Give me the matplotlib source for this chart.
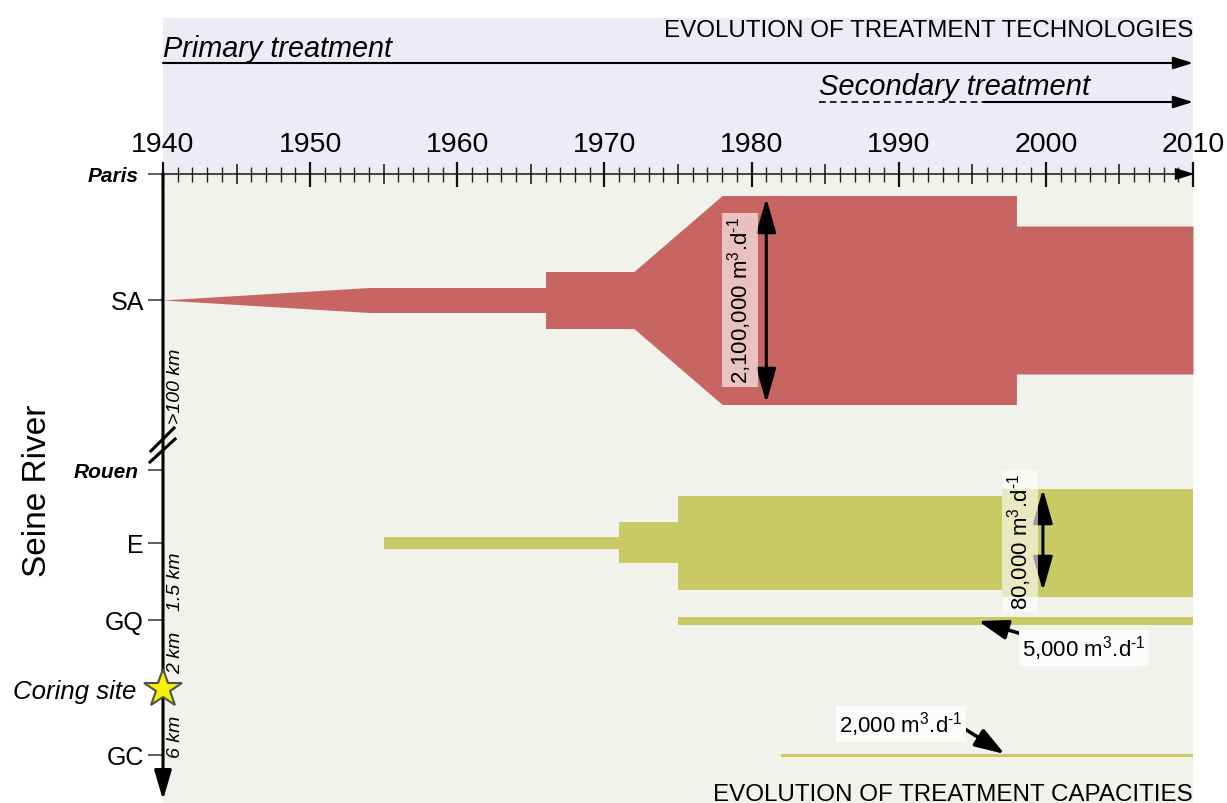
import numpy as np
import matplotlib.pyplot as plt
from matplotlib.patches import Rectangle

plt.rcParams['font.family'] = ['Liberation Sans', 'DejaVu Sans']
plt.rcParams['mathtext.fontset'] = 'custom'
plt.rcParams['mathtext.rm'] = 'Liberation Sans'
plt.rcParams['mathtext.it'] = 'Liberation Sans:italic'

# --- data -------------------------------------------------------------
decades = [1940, 1950, 1960, 1970, 1980, 1990, 2000, 2010]

sites = ['Paris', 'SA', 'Rouen', 'E', 'GQ', 'Coring site', 'GC']
site_pos = [175, 301, 471, 544, 621, 690, 756]   # position along the river (drawing units)

distances = ['>100 km', '1.5 km', '2 km', '6 km']
dist_pos = [386, 582, 653, 737]

# treatment capacity drawn as band width (schematic)
sa_years = [1940, 1954, 1966, 1966, 1972, 1978, 1998, 1998, 2010]
sa_width = [0, 25, 25, 57, 57, 209, 209, 148, 148]
e_years = [1955, 1971, 1971, 1975, 1975, 1997, 1997, 2010]
e_width = [12, 12, 41, 41, 94, 94, 108, 108]
gq_years = [1975, 2010]
gq_width = [8, 8]
gc_years = [1982, 2010]
gc_width = [3.5, 3.5]

primary_start = 1940
secondary_dashed = [1984.6, 1995.8]

RED = '#c76563'
OLIVE = '#c9c966'
UNIT = ' m$^{3}$.d$^{\\text{-}1}$'

# --- figure -----------------------------------------------------------
fig = plt.figure(figsize=(12.27, 8.04), dpi=100)
ax = fig.add_axes([0, 0, 1, 1])
PX = 1030 / 70  # pixels per year
ax.set_xlim(1940 - 163 / PX, 1940 + (1227 - 163) / PX)
ax.set_ylim(804, 0)
ax.axis('off')

ax.add_patch(Rectangle((1940, 19), 70, 156, fc='#ececf7', ec='none', zorder=0))
ax.add_patch(Rectangle((1940, 175), 70, 629, fc='#f2f2ed', ec='none', zorder=0))


def band(years, width, centre, color):
    w = np.array(width) / 2
    ax.fill_between(years, centre - w, centre + w, color=color, lw=0, zorder=2)


band(sa_years, sa_width, 301, RED)
band(e_years, e_width, 543.5, OLIVE)
band(gq_years, gq_width, 621.5, OLIVE)
band(gc_years, gc_width, 756.5, OLIVE)

# time axis
yrs = np.arange(1940, 2011)
y0 = site_pos[0]
minor = yrs[yrs % 5 != 0]
mid = yrs[(yrs % 5 == 0) & (yrs % 10 != 0)]
ax.vlines(minor, y0 - 7.5, y0 + 7.5, color='#222', lw=1, zorder=4)
ax.vlines(mid, y0 - 10, y0 + 10, color='#222', lw=1.2, zorder=4)
ax.vlines(decades, y0 - 12.5, y0 + 12.5, color='#111', lw=1.6, zorder=4)
ax.annotate('', xy=(2010.1, y0), xytext=(1940, y0),
            arrowprops=dict(arrowstyle='-|>,head_length=0.8,head_width=0.25', lw=1,
                            color='black', shrinkA=0, shrinkB=0, mutation_scale=15), zorder=4)
for d in decades:
    ax.text(d, 152, str(d), ha='center', va='baseline', fontsize=20.5)

# treatment technologies
ax.text(2010, 36.7, 'EVOLUTION OF TREATMENT TECHNOLOGIES', ha='right', va='baseline', fontsize=17.4)
ax.text(primary_start, 57, 'Primary treatment', ha='left', va='baseline', fontsize=20.8, style='italic')
ax.annotate('', xy=(2010, 64), xytext=(primary_start, 64),
            arrowprops=dict(arrowstyle='-|>,head_length=0.8,head_width=0.25', lw=1.5,
                            color='black', shrinkA=0, shrinkB=0, mutation_scale=15))
ax.text(secondary_dashed[0], 95, 'Secondary treatment', ha='left', va='baseline', fontsize=21, style='italic')
ax.plot(secondary_dashed, [103, 103], color='black', lw=1.2, ls=(0, (4, 2.5)))
ax.annotate('', xy=(2010, 103), xytext=(secondary_dashed[1], 103),
            arrowprops=dict(arrowstyle='-|>,head_length=0.8,head_width=0.25', lw=1.5,
                            color='black', shrinkA=0, shrinkB=0, mutation_scale=15))

# river axis
ax.annotate('', xy=(1940, 801), xytext=(1940, y0),
            arrowprops=dict(arrowstyle='-|>,head_length=1.2,head_width=0.35', lw=2.2,
                            color='black', shrinkA=0, shrinkB=0, mutation_scale=15), zorder=5)
ax.plot([1939.18, 1940.75], [452, 429], color='black', lw=2.2, zorder=5)
ax.plot([1939.12, 1940.82], [463, 440], color='black', lw=2.2, zorder=5)

for name, pos in zip(sites, site_pos):
    if name in ('Paris', 'Rouen'):
        fs, kw, x = 15, dict(style='italic', weight='bold'), 1938.37
    elif name == 'Coring site':
        fs, kw, x = 18.5, dict(style='italic'), 1938.17
    else:
        fs, kw, x = 18, {}, 1938.71
    ax.text(x, pos + 0.358 * fs * 100 / 72, name, ha='right', va='baseline', fontsize=fs, **kw)
    if name != 'Coring site':
        ax.hlines(pos, 1938.98, 1940, color='#333', lw=1.1, zorder=4)

ax.plot(1940, site_pos[5], marker='*', ms=29, mfc='#f7f300', mec='#505050', mew=1.5, zorder=6)

for txt, pos in zip(distances, dist_pos):
    ax.text(1940.88, pos, txt, rotation=90, ha='center', va='center', fontsize=14, style='italic')

ax.text(1931.44, 491, 'Seine River', rotation=90, ha='center', va='center', fontsize=24)

# capacity annotations
dbl = dict(arrowstyle='<|-|>,head_length=1.4,head_width=0.4', lw=2.2, color='black',
           shrinkA=0, shrinkB=0, mutation_scale=15)
ax.annotate('', xy=(1981, 199), xytext=(1981, 404), arrowprops=dbl, zorder=5)
ax.text(1979.2, 301, '2,100,000' + UNIT, rotation=90, ha='center', va='center', fontsize=16,
        bbox=dict(boxstyle='square,pad=0.15', fc='white', ec='none', alpha=0.6), zorder=5)

ax.annotate('', xy=(1999.8, 490), xytext=(1999.8, 592), arrowprops=dbl, zorder=5)
ax.text(1998.24, 542, '80,000' + UNIT, rotation=90, ha='center', va='center', fontsize=16,
        bbox=dict(boxstyle='square,pad=0.15', fc='white', ec='none', alpha=0.6), zorder=5)

sgl = dict(arrowstyle='-|>,head_length=1.2,head_width=0.4', lw=2.5, color='black',
           shrinkA=0, shrinkB=0, mutation_scale=15)
ax.annotate('', xy=(1995.4, 622), xytext=(2001.1, 647), arrowprops=sgl, zorder=5)
ax.text(2002.6, 649, '5,000' + UNIT, ha='center', va='center', fontsize=16,
        bbox=dict(boxstyle='square,pad=0.15', fc='#fbfbfb', ec='none'), zorder=5)
ax.annotate('', xy=(1997.2, 755), xytext=(1994.5, 730), arrowprops=sgl, zorder=5)
ax.text(1990.16, 725, '2,000' + UNIT, ha='center', va='center', fontsize=16,
        bbox=dict(boxstyle='square,pad=0.15', fc='#fbfbfb', ec='none'), zorder=5)

ax.text(2010, 801, 'EVOLUTION OF TREATMENT CAPACITIES', ha='right', va='baseline', fontsize=17.4)

fig.savefig('out.png', dpi=100)
